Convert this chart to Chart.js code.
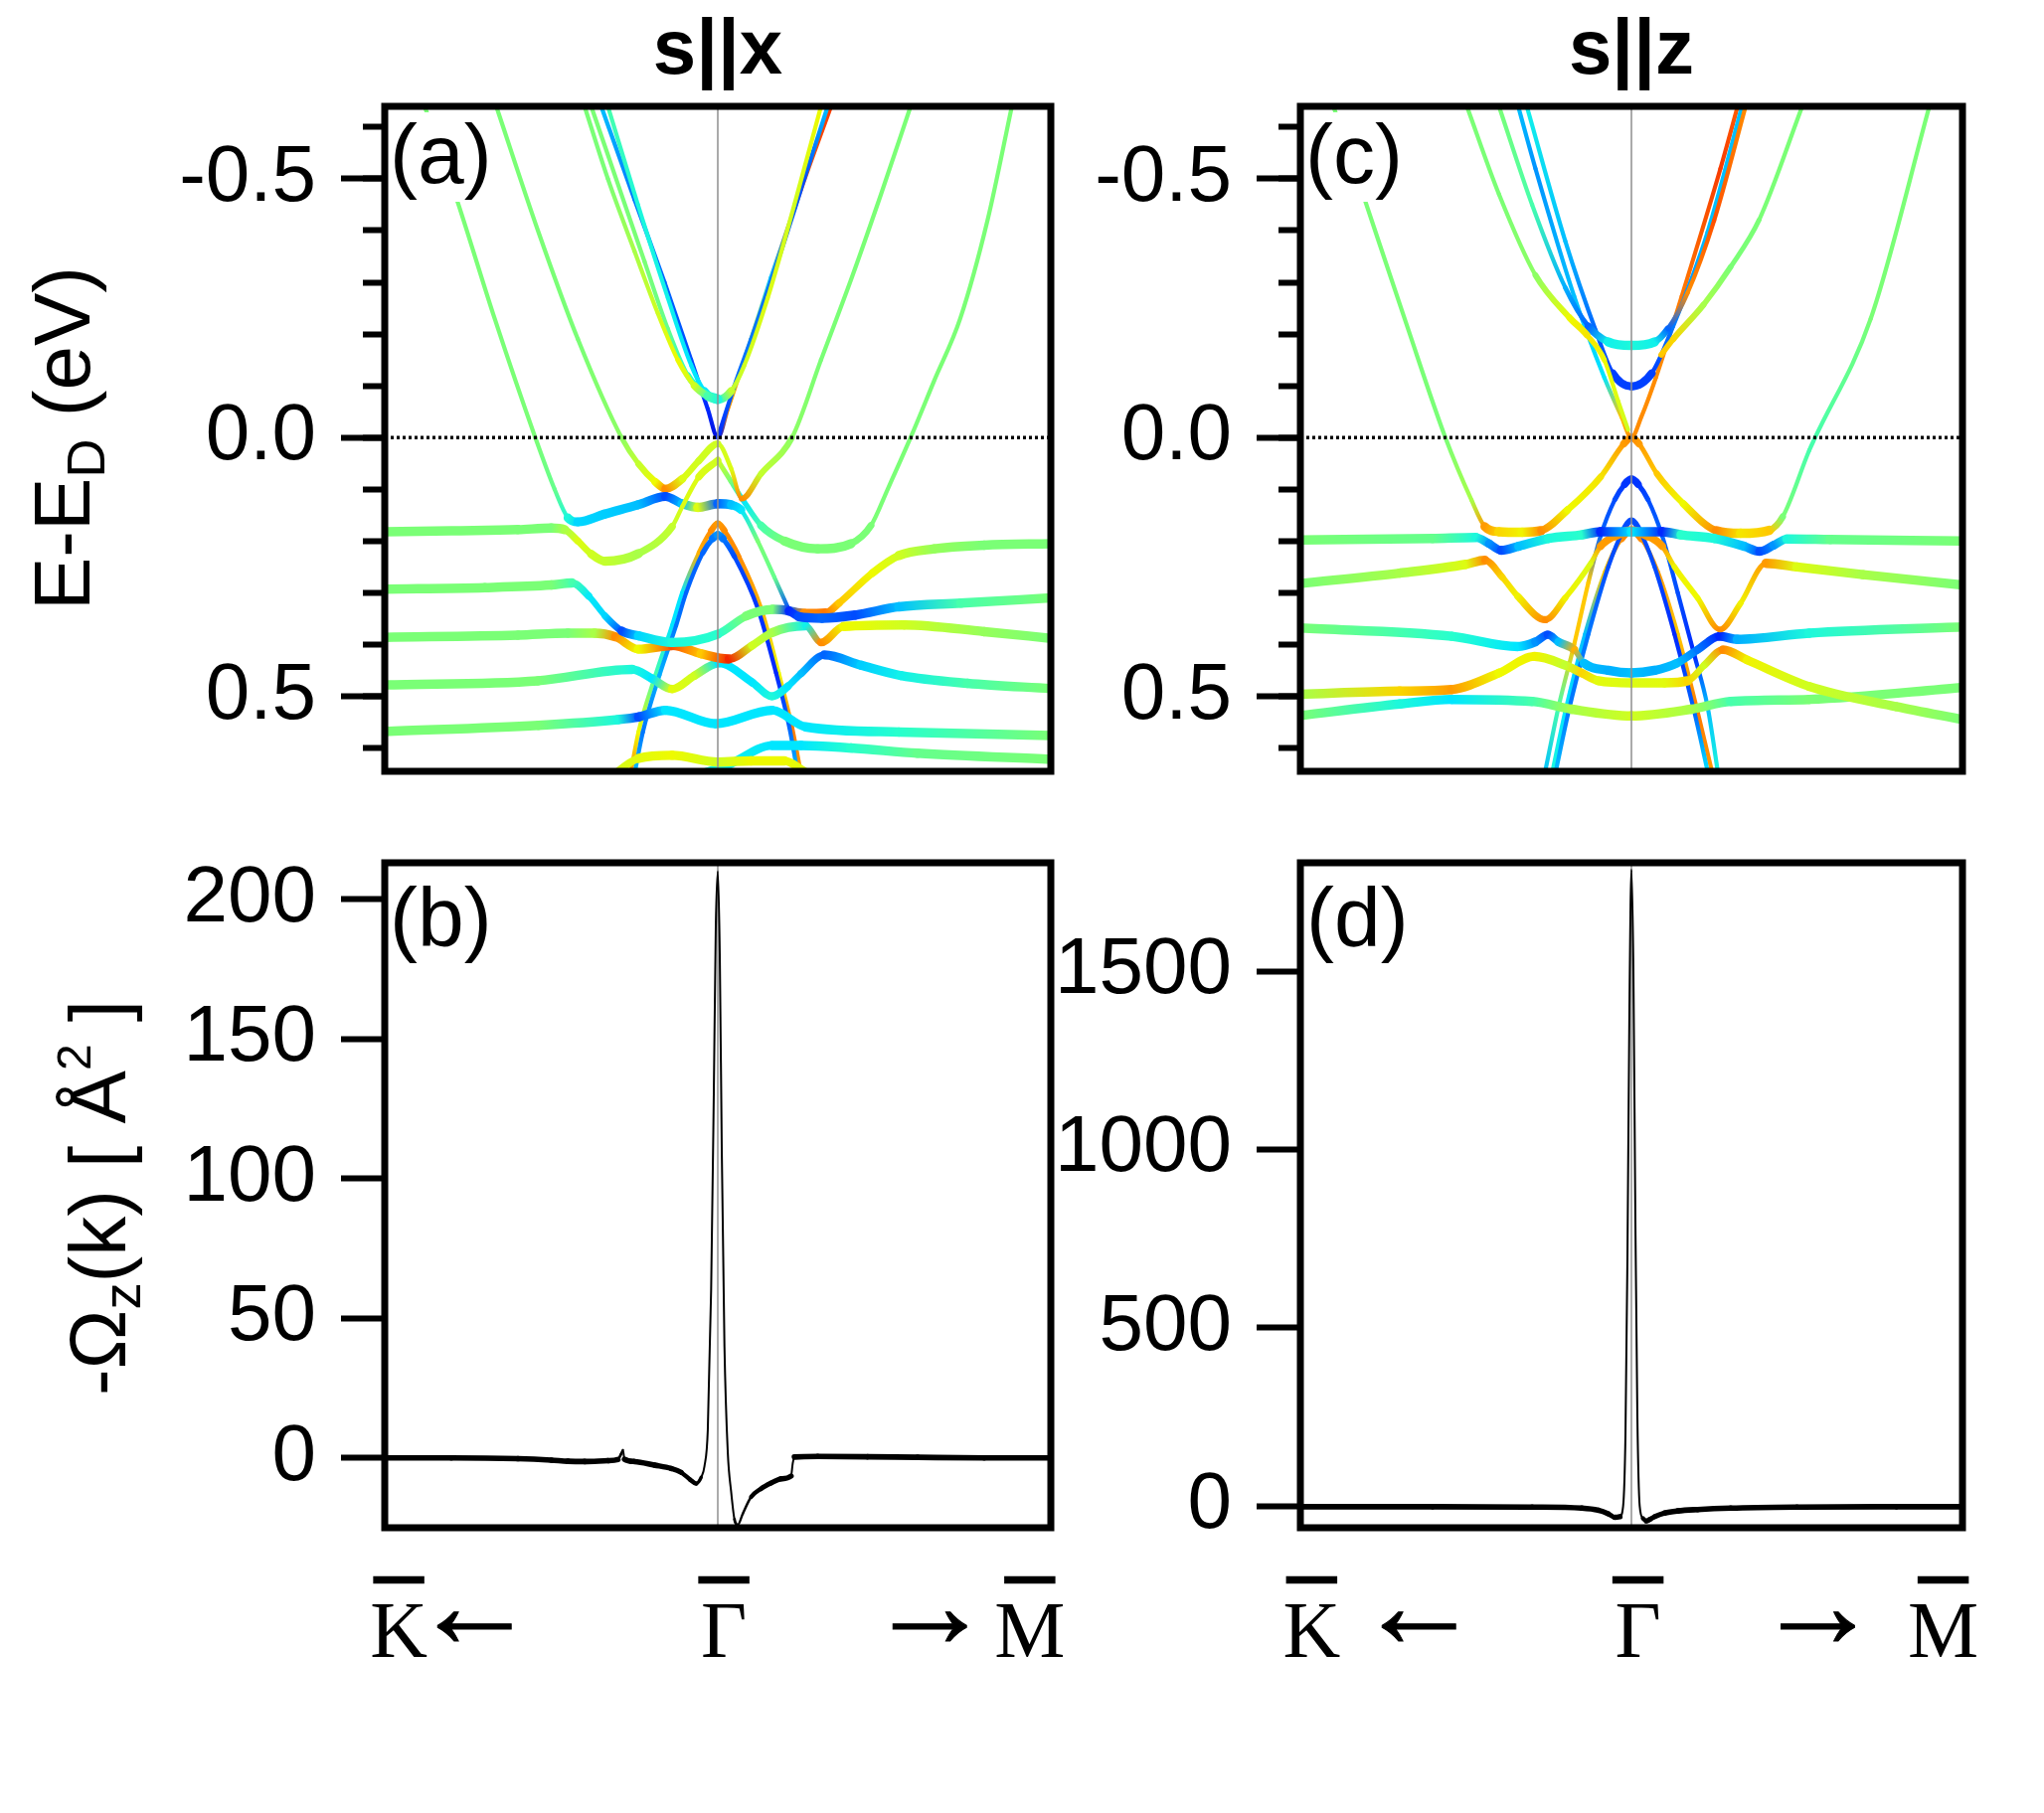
<!DOCTYPE html>
<html><head><meta charset="utf-8">
<script src="https://cdn.jsdelivr.net/npm/chart.js@4.4.1/dist/chart.umd.min.js"></script>
<style>
html,body{margin:0;padding:0;background:#fff;}
body{width:2056px;height:1824px;position:relative;overflow:hidden;}
canvas{position:absolute;}
.pl{position:absolute;font-family:"Liberation Sans",Arial,sans-serif;font-size:84px;line-height:1;background:#fff;padding:0 3px 6px 0;color:#000;z-index:5;}
.yt{position:absolute;font-family:"Liberation Sans",Arial,sans-serif;font-size:80px;line-height:100px;height:100px;width:700px;text-align:center;white-space:nowrap;transform:rotate(-90deg);color:#000;z-index:5;}
.yt sub{font-size:0.68em;vertical-align:-0.28em;line-height:0;}
.yt sup{font-size:0.6em;vertical-align:0.72em;line-height:0;}
</style></head><body>
<canvas id="ca" width="1100" height="790" style="left:0;top:0;width:1100px;height:790px"></canvas>
<canvas id="cc" width="996" height="790" style="left:1060px;top:0;width:996px;height:790px"></canvas>
<canvas id="cb" width="1100" height="1024" style="left:0;top:800px;width:1100px;height:1024px"></canvas>
<canvas id="cd" width="996" height="1024" style="left:1060px;top:800px;width:996px;height:1024px"></canvas>
<div class="yt" style="left:-287px;top:391px">E-E<sub>D</sub> (eV)</div>
<div class="yt" style="left:-251px;top:1155px">-Ω<sub>z</sub>(k) [ Å<sup>2</sup> ]</div>
<div class="pl" style="left:392px;top:113px">(a)</div>
<div class="pl" style="left:1313px;top:113px">(c)</div>
<div class="pl" style="left:392px;top:881px">(b)</div>
<div class="pl" style="left:1314px;top:881px">(d)</div>
<script>
// ---------------- DATA ----------------
// k runs from K (-1) through Gamma (0) to M (+1); E in eV relative to E_D; c = spin/weight value (0 blue .. 0.5 green .. 1 red)
const panelTitles = ["s||x", "s||z"];
const eTicksMajor = [-0.5, 0, 0.5];
const eTicksMinor = [-0.6,-0.5,-0.4,-0.3,-0.2,-0.1,0,0.1,0.2,0.3,0.4,0.5,0.6];
const berryTicksB = [0, 50, 100, 150, 200];
const berryTicksD = [0, 500, 1000, 1500];
const kPointLabels = ["K", "Γ", "M"];
const kBarLabels = ["‾", "‾", "‾"];
const kArrowLabels = ["←", "→"];
const kPointPosB = [-0.958, 0.018, 0.937];
const kArrowPosB = [-0.731, 0.636];
const kPointPosD = [-0.966, 0.02, 0.942];
const kArrowPosD = [-0.643, 0.562];

// ---- panel (a): s||x bands ----
const aK1=[-0.35,-0.25,-0.16,-0.08,-0.03,0,0.03,0.08,0.16,0.25,0.34];
const aE1=[-0.64,-0.46,-0.30,-0.15,-0.055,0,-0.055,-0.15,-0.31,-0.48,-0.64];
const aC1=[0.3,0.22,0.2,0.18,0.15,0.12,0.8,0.65,0.3,0.85,0.88];
const aK2=[0,0.05,0.1,0.18,0.26,0.33];
const aE2=[0.0,-0.1,-0.19,-0.34,-0.5,-0.64];
const aC2=[0.15,0.2,0.22,0.2,0.18,0.3];
const aK3=[-0.33,-0.24,-0.15,-0.08,-0.04,0,0.04,0.08,0.15,0.23,0.31];
const aE3=[-0.64,-0.45,-0.27,-0.14,-0.09,-0.073,-0.09,-0.14,-0.27,-0.45,-0.64];
const aC3=[0.45,0.4,0.38,0.35,0.35,0.4,0.58,0.6,0.62,0.6,0.65];
const aK4=[-0.40,-0.33,-0.25,-0.18,-0.12,-0.07,-0.03,0];
const aE4=[-0.64,-0.50,-0.36,-0.24,-0.15,-0.1,-0.08,-0.073];
const aC4=[0.5,0.5,0.55,0.6,0.65,0.6,0.45,0.4];
const aK5=[-0.38,-0.3,-0.22,-0.15,-0.09,-0.04,0];
const aE5=[-0.64,-0.49,-0.34,-0.21,-0.12,-0.085,-0.075];
const aC5=[0.5,0.5,0.5,0.48,0.42,0.4,0.4];
const aK6=[-0.88,-0.78,-0.67,-0.548,-0.49,-0.45,-0.42,-0.34,-0.24,-0.157,-0.107,-0.06,0,0.04,0.07,0.12,0.17,0.213];
const aE6=[-0.64,-0.453,-0.23,0,0.10,0.155,0.163,0.148,0.13,0.114,0.128,0.135,0.128,0.13,0.14,0.2,0.27,0.332];
const aC6=[0.5,0.5,0.5,0.5,0.48,0.4,0.33,0.32,0.3,0.18,0.3,0.62,0.2,0.3,0.35,0.5,0.48,0.18];
const aK7=[-0.665,-0.54,-0.42,-0.289,-0.238,-0.187,-0.157,-0.107,-0.057,0,0.04,0.072,0.13,0.223,0.31,0.404,0.49,0.579];
const aE7=[-0.64,-0.40,-0.19,0,0.051,0.086,0.099,0.08,0.045,0.012,0.06,0.118,0.07,0,-0.15,-0.312,-0.47,-0.64];
const aC7=[0.5,0.5,0.5,0.52,0.58,0.65,0.8,0.62,0.6,0.6,0.62,0.8,0.58,0.52,0.5,0.5,0.5,0.5];
const aK8=[0,0.04,0.075,0.13,0.2,0.3,0.4,0.46,0.51,0.579,0.65,0.728,0.81,0.883];
const aE8=[0.044,0.085,0.12,0.17,0.2,0.215,0.205,0.17,0.10,0,-0.11,-0.23,-0.42,-0.64];
const aC8=[0.6,0.5,0.35,0.45,0.5,0.5,0.5,0.5,0.5,0.5,0.5,0.5,0.5,0.5];
const aK9=[-1,-0.8,-0.6,-0.5,-0.46,-0.42,-0.38,-0.338,-0.238,-0.137,-0.107,-0.057,0];
const aE9=[0.182,0.18,0.178,0.175,0.178,0.20,0.225,0.239,0.224,0.172,0.134,0.076,0.044];
const aC9=[0.5,0.5,0.5,0.5,0.55,0.62,0.6,0.58,0.55,0.58,0.62,0.62,0.6];
const aK10=[-1,-0.7,-0.5,-0.438,-0.388,-0.338,-0.288,-0.238,-0.137,0,0.085,0.165,0.213,0.243,0.313,0.413,0.544,0.73,1];
const aE10=[0.293,0.29,0.285,0.281,0.306,0.345,0.374,0.383,0.396,0.38,0.345,0.332,0.335,0.346,0.349,0.343,0.327,0.32,0.31];
const aC10=[0.5,0.5,0.5,0.45,0.36,0.33,0.18,0.33,0.4,0.42,0.5,0.5,0.15,0.18,0.2,0.18,0.3,0.45,0.5];
const aK11=[0.213,0.26,0.324,0.364,0.464,0.544,0.65,0.8,1];
const aE11=[0.335,0.34,0.339,0.32,0.262,0.228,0.215,0.208,0.205];
const aC11=[0.2,0.8,0.82,0.72,0.65,0.6,0.53,0.5,0.5];
const aK12=[-1,-0.6,-0.45,-0.37,-0.308,-0.238,-0.137,-0.05,0.033,0.103,0.163,0.263,0.31,0.378,0.56,0.8,1];
const aE12=[0.386,0.382,0.378,0.378,0.385,0.409,0.402,0.418,0.428,0.402,0.377,0.364,0.396,0.365,0.362,0.375,0.388];
const aC12=[0.5,0.5,0.5,0.55,0.8,0.65,0.86,0.72,0.9,0.6,0.55,0.38,0.8,0.65,0.6,0.53,0.5];
const aK13=[-1,-0.54,-0.257,-0.197,-0.137,-0.07,0.003,0.103,0.163,0.21,0.25,0.32,0.43,0.55,0.75,1];
const aE13=[0.478,0.47,0.448,0.466,0.486,0.46,0.436,0.473,0.5,0.481,0.456,0.42,0.44,0.46,0.475,0.485];
const aC13=[0.5,0.5,0.4,0.35,0.63,0.6,0.35,0.35,0.4,0.35,0.3,0.2,0.32,0.38,0.45,0.5];
const aK14=[-1,-0.538,-0.3,-0.238,-0.157,-0.007,0.163,0.263,0.544,1];
const aE14=[0.568,0.556,0.545,0.54,0.527,0.553,0.527,0.559,0.569,0.576];
const aC14=[0.5,0.5,0.4,0.18,0.35,0.35,0.35,0.35,0.42,0.5];
const aK15=[-0.33,-0.238,-0.137,0,0.1,0.2,0.26];
const aE15=[0.66,0.62,0.614,0.627,0.625,0.625,0.645];
const aC15=[0.6,0.63,0.65,0.6,0.65,0.65,0.62];
const aK16=[-0.1,0.03,0.163,0.25,0.4,0.6,1];
const aE16=[0.66,0.633,0.595,0.595,0.6,0.61,0.622];
const aC16=[0.4,0.38,0.35,0.35,0.42,0.48,0.5];
const aK17=[-0.262,-0.238,-0.187,-0.137,-0.107,-0.057,-0.02,0,0.02,0.064,0.13,0.183,0.223,0.25];
const aE17=[0.65,0.569,0.459,0.363,0.30,0.223,0.18,0.166,0.18,0.23,0.33,0.455,0.56,0.65];
const aC17=[0.8,0.65,0.45,0.35,0.35,0.75,0.8,0.78,0.8,0.8,0.75,0.65,0.82,0.78];
const aK18=[-0.25,-0.225,-0.175,-0.125,-0.095,-0.045,-0.015,0,0.015,0.05,0.12,0.175,0.215,0.24];
const aE18=[0.65,0.569,0.459,0.363,0.30,0.223,0.195,0.188,0.195,0.23,0.33,0.455,0.56,0.65];
const aC18=[0.3,0.22,0.28,0.22,0.2,0.2,0.22,0.25,0.22,0.18,0.16,0.15,0.2,0.3];

// ---- panel (c): s||z bands ----
const cK1=[-0.9,-0.803,-0.68,-0.562,-0.483,-0.443,-0.40,-0.33,-0.273,-0.193,-0.093,-0.023,0,0.023,0.077,0.157,0.257,0.33,0.417,0.457,0.537,0.555,0.723,0.9];
const cE1=[-0.64,-0.455,-0.22,0,0.121,0.172,0.182,0.183,0.18,0.14,0.076,0.012,0,0.012,0.07,0.128,0.18,0.185,0.179,0.153,0.025,0,-0.23,-0.64];
const cC1=[0.5,0.5,0.5,0.5,0.55,0.78,0.7,0.66,0.8,0.65,0.68,0.78,0.8,0.78,0.72,0.65,0.8,0.68,0.72,0.5,0.45,0.45,0.5,0.5];
const cK2=[-0.342,-0.29,-0.173,-0.082,-0.03,0,0.03,0.074,0.152,0.269,0.321];
const cE2=[-0.64,-0.52,-0.273,-0.116,-0.04,0,-0.04,-0.116,-0.273,-0.52,-0.64];
const cC2=[0.3,0.25,0.3,0.35,0.72,0.8,0.8,0.8,0.82,0.88,0.85];
const cK3=[-0.316,-0.2,-0.108,-0.056,0,0.061,0.126,0.23,0.334];
const cE3=[-0.64,-0.38,-0.207,-0.124,-0.099,-0.124,-0.215,-0.397,-0.64];
const cC3=[0.38,0.3,0.2,0.17,0.17,0.17,0.22,0.3,0.3];
const cK4=[-0.40,-0.3,-0.2,-0.13,-0.07,0,0.07,0.11,0.17,0.25,0.345];
const cE4=[-0.64,-0.45,-0.29,-0.215,-0.185,-0.178,-0.185,-0.21,-0.28,-0.42,-0.64];
const cC4=[0.5,0.45,0.28,0.2,0.38,0.4,0.38,0.2,0.8,0.86,0.8];
const cK5=[-0.497,-0.4,-0.29,-0.186,-0.134,-0.082,-0.04,-0.01];
const cE5=[-0.64,-0.47,-0.314,-0.231,-0.198,-0.15,-0.07,-0.015];
const cC5=[0.5,0.5,0.52,0.65,0.68,0.65,0.62,0.6];
const cK6=[0.09,0.126,0.217,0.3,0.386,0.516];
const cE6=[-0.16,-0.19,-0.256,-0.33,-0.421,-0.64];
const cC6=[0.72,0.7,0.55,0.5,0.5,0.5];
const cK7=[-1,-0.6,-0.47,-0.43,-0.393,-0.34,-0.25,-0.15,-0.093,0,0.093,0.15,0.25,0.34,0.387,0.43,0.47,0.6,1];
const cE7=[0.198,0.195,0.193,0.205,0.218,0.21,0.195,0.188,0.182,0.182,0.182,0.188,0.195,0.21,0.22,0.208,0.196,0.197,0.2];
const cC7=[0.5,0.48,0.4,0.25,0.18,0.3,0.4,0.42,0.15,0.35,0.15,0.42,0.4,0.3,0.18,0.25,0.4,0.48,0.5];
const cK8=[-0.262,-0.22,-0.173,-0.13,-0.093,-0.05,-0.02,0,0.02,0.05,0.093,0.14,0.19,0.23,0.262];
const cE8=[0.65,0.52,0.40,0.28,0.19,0.12,0.09,0.08,0.09,0.12,0.19,0.3,0.42,0.52,0.65];
const cC8=[0.3,0.45,0.72,0.72,0.2,0.18,0.16,0.16,0.16,0.18,0.2,0.18,0.15,0.3,0.4];
const cK9=[-0.24,-0.2,-0.14,-0.08,-0.03,0,0.03,0.08,0.14,0.2,0.245];
const cE9=[0.65,0.53,0.38,0.26,0.195,0.18,0.195,0.26,0.38,0.53,0.65];
const cC9=[0.4,0.35,0.3,0.72,0.8,0.82,0.8,0.78,0.72,0.82,0.78];
const cK10=[-0.23,-0.19,-0.13,-0.07,-0.025,0,0.025,0.07,0.13,0.19,0.232];
const cE10=[0.65,0.53,0.38,0.25,0.18,0.16,0.18,0.25,0.38,0.53,0.65];
const cC10=[0.3,0.22,0.22,0.18,0.18,0.18,0.18,0.18,0.15,0.2,0.35];
const cK11=[-1,-0.7,-0.5,-0.443,-0.39,-0.343,-0.26,-0.2,-0.123,-0.093,-0.05,0,0.05,0.093,0.13,0.2,0.267,0.33,0.407,0.5,0.7,1];
const cE11=[0.282,0.262,0.245,0.237,0.27,0.307,0.352,0.31,0.243,0.21,0.19,0.18,0.19,0.21,0.25,0.31,0.371,0.32,0.243,0.25,0.265,0.285];
const cC11=[0.5,0.55,0.62,0.8,0.7,0.66,0.8,0.66,0.62,0.78,0.78,0.8,0.78,0.78,0.66,0.65,0.8,0.66,0.78,0.62,0.55,0.5];
const cK12=[-1,-0.543,-0.343,-0.29,-0.253,-0.22,-0.173,-0.143,-0.07,0,0.07,0.137,0.2,0.267,0.32,0.537,1];
const cE12=[0.368,0.384,0.404,0.395,0.381,0.395,0.41,0.436,0.45,0.455,0.45,0.436,0.41,0.384,0.39,0.378,0.366];
const cC12=[0.5,0.42,0.35,0.25,0.18,0.3,0.75,0.3,0.28,0.3,0.28,0.3,0.22,0.15,0.28,0.4,0.5];
const cK13=[-1,-0.7,-0.543,-0.4,-0.293,-0.2,-0.15,-0.1,0,0.1,0.17,0.22,0.277,0.35,0.537,0.8,1];
const cE13=[0.496,0.49,0.487,0.455,0.423,0.44,0.455,0.47,0.474,0.474,0.47,0.44,0.41,0.43,0.481,0.52,0.545];
const cC13=[0.55,0.7,0.78,0.65,0.66,0.58,0.7,0.63,0.62,0.63,0.7,0.6,0.8,0.66,0.6,0.55,0.5];
const cK14=[-1,-0.7,-0.543,-0.3,-0.18,0,0.18,0.3,0.537,1];
const cE14=[0.537,0.515,0.506,0.51,0.525,0.538,0.525,0.51,0.506,0.483];
const cC14=[0.5,0.4,0.35,0.45,0.55,0.6,0.55,0.45,0.5,0.5];

// ---- Berry curvature -Omega_z(k) ----
const bK=[-1,-0.8,-0.6,-0.5,-0.45,-0.4,-0.33,-0.3,-0.29,-0.285,-0.28,-0.25,-0.19,-0.14,-0.11,-0.083,-0.065,-0.05,-0.04,-0.03,-0.02,-0.012,-0.006,0,0.006,0.012,0.02,0.03,0.04,0.05,0.06,0.075,0.1,0.13,0.16,0.19,0.22,0.225,0.23,0.3,0.45,0.6,0.8,1];
const bV=[0,0,-0.3,-0.8,-1.2,-1.3,-1,-0.6,1.5,2.8,-0.5,-1.3,-2.6,-3.8,-5.2,-7.8,-9.2,-7,-3,10,60,130,190,210,180,110,40,2,-12,-22,-24,-20,-14,-11,-9,-7.5,-6.5,-2,0.3,0.5,0.4,0.2,0,0];
const dK=[-1,-0.6,-0.3,-0.15,-0.1,-0.07,-0.05,-0.035,-0.025,-0.018,-0.012,-0.006,0,0.006,0.012,0.018,0.025,0.035,0.045,0.055,0.07,0.1,0.14,0.2,0.3,0.5,0.8,1];
const dV=[-2,-2,-3,-6,-12,-22,-32,-30,0,200,700,1400,1785,1500,800,250,0,-35,-42,-38,-30,-20,-14,-10,-6,-3,-2,-2];

// ---------------- STYLE / BUILD ----------------
Chart.defaults.font.family = '"Liberation Sans", Arial, sans-serif';
Chart.defaults.color = '#000';
const serif = '"Liberation Serif","Times New Roman",serif';
const cmapStops=[[0.10,[0,0,200]],[0.15,[0,40,255]],[0.20,[0,100,255]],[0.28,[0,175,255]],[0.35,[0,230,255]],[0.42,[40,255,205]],[0.50,[122,255,118]],[0.58,[195,255,45]],[0.65,[238,250,0]],[0.72,[255,200,0]],[0.80,[255,140,0]],[0.86,[255,80,0]],[0.92,[235,20,0]]];
function cmap(v){
  if (v<=cmapStops[0][0]) return 'rgb('+cmapStops[0][1].join(',')+')';
  for (let i=1;i<cmapStops.length;i++){
    if (v<=cmapStops[i][0]){
      const [v0,c0]=cmapStops[i-1],[v1,c1]=cmapStops[i]; const t=(v-v0)/(v1-v0);
      return 'rgb('+c0.map((q,j)=>Math.round(q+(c1[j]-q)*t)).join(',')+')';
    }
  }
  return 'rgb('+cmapStops[cmapStops.length-1][1].join(',')+')';
}
function segColor(ctx, cs){
  const c0=cs[ctx.p0DataIndex], c1=cs[ctx.p1DataIndex];
  if (Math.abs(c0-c1)<1e-6) return cmap(c0);
  const g=ctx.chart.ctx.createLinearGradient(ctx.p0.x,ctx.p0.y,ctx.p1.x,ctx.p1.y);
  g.addColorStop(0,cmap(c0)); g.addColorStop(1,cmap(c1)); return g;
}
function segWidth(ctx, base, min){
  const dx=ctx.p1.x-ctx.p0.x, dy=ctx.p1.y-ctx.p0.y, L=Math.hypot(dx,dy);
  if (!L) return base; return Math.max(min, base*Math.abs(dx)/L);
}
function bandDS(k,e,c){
  return {data:k.map((x,i)=>({x:x,y:e[i]})), borderColor:cmap(0.5), borderWidth:8, pointRadius:0,
    cubicInterpolationMode:'monotone', borderCapStyle:'round', borderJoinStyle:'round', order:1,
    segment:{borderColor:ctx=>segColor(ctx,c), borderWidth:ctx=>segWidth(ctx,9.5,4.2)}};
}
function curveDS(k,v){
  return {data:k.map((x,i)=>({x:x,y:v[i]})), borderColor:'#000', borderWidth:5, pointRadius:0,
    cubicInterpolationMode:'monotone', borderCapStyle:'round', borderJoinStyle:'round', order:1,
    segment:{borderWidth:ctx=>segWidth(ctx,5.6,2)}};
}
function gammaDS(lo,hi,ord){ return {data:[{x:0,y:lo},{x:0,y:hi}], borderColor:'#8f8f8f', borderWidth:1.5, pointRadius:0, tension:0, order:ord}; }
function zeroDS(){ return {data:[{x:-1,y:0},{x:1,y:0}], borderColor:'#000', borderWidth:3.5, borderDash:[3,3], pointRadius:0, tension:0, order:0}; }

const framePlugin={id:'frame', afterDatasetsDraw(chart){
  const {ctx, chartArea:a}=chart; ctx.save(); ctx.lineWidth=7; ctx.strokeStyle='#000';
  ctx.strokeRect(a.left,a.top,a.right-a.left,a.bottom-a.top); ctx.restore(); }};

const noPad = s => { s.paddingLeft=0; s.paddingRight=0; s.paddingTop=0; s.paddingBottom=0; };
function kAxis(yMin, pos, labels, size, pad, stroke){
  return {type:'linear', axis:'x', min:-1, max:1, position:{y:yMin},
    afterBuildTicks:s=>{s.ticks=pos.map(v=>({value:v}));}, afterFit:noPad,
    ticks:{autoSkip:false, maxRotation:0, minRotation:0, padding:pad, color:'#000',
      textStrokeColor:'#000', textStrokeWidth:stroke,
      font:{family:serif, size:size, lineHeight:1}, callback:(v,i)=>labels[i]},
    grid:{drawOnChartArea:false, drawTicks:false}, border:{display:false}};
}
function makeChart(id, datasets, o){
  const scales={};
  if (o.xPoints){
    scales.x=kAxis(o.yMin, o.xPoints, kPointLabels, 80, 69, 0);
    scales.xbar=kAxis(o.yMin, o.xPoints, kBarLabels, 125, 54, 2.5);
    scales.xarr=kAxis(o.yMin, o.xArrows, kArrowLabels, 125, 25, 1);
  } else {
    scales.x={type:'linear', min:-1, max:1, display:false};
  }
  scales.y={type:'linear', position:'left', weight:1, min:o.yMin, max:o.yMax, reverse:!!o.reverse,
    afterBuildTicks:s=>{s.ticks=o.yTicks.map(v=>({value:v}));},
    afterFit:s=>{s.width=o.yWidth; s.paddingTop=0; s.paddingBottom=0;},
    ticks:{autoSkip:false, padding:25, color:'#000', font:{size:80}, callback:o.yFmt},
    grid:{drawOnChartArea:false, drawTicks:true, tickLength:44, tickWidth:6, tickColor:'#000'},
    border:{display:false}};
  if (o.yMinor){
    scales.y2={type:'linear', position:'left', weight:0, min:o.yMin, max:o.yMax, reverse:!!o.reverse,
      afterBuildTicks:s=>{s.ticks=o.yMinor.map(v=>({value:v}));},
      afterFit:s=>{s.width=0; s.paddingTop=0; s.paddingBottom=0;},
      ticks:{display:false},
      grid:{drawOnChartArea:false, drawTicks:true, tickLength:22, tickWidth:6, tickColor:'#000'},
      border:{display:false}};
  }
  return new Chart(document.getElementById(id), {type:'line', data:{datasets:datasets},
    options:{responsive:false, animation:false, devicePixelRatio:1, events:[],
      layout:{padding:{top:o.padTop, right:o.padRight, bottom:o.padBottom, left:0}},
      plugins:{legend:{display:false}, tooltip:{enabled:false},
        title: o.title ? {display:true, text:o.title, fullSize:false, color:'#000',
          font:{size:78, weight:'bold', lineHeight:1.2}, padding:{top:6, bottom:7.4}} : {display:false}},
      scales:scales},
    plugins:[framePlugin]});
}

const E_MIN=-0.64, E_MAX=0.645;
const bandsA=[[aK9,aE9,aC9],[aK10,aE10,aC10],[aK11,aE11,aC11],[aK12,aE12,aC12],[aK13,aE13,aC13],[aK14,aE14,aC14],[aK15,aE15,aC15],[aK16,aE16,aC16],
  [aK6,aE6,aC6],[aK7,aE7,aC7],[aK8,aE8,aC8],[aK4,aE4,aC4],[aK5,aE5,aC5],[aK3,aE3,aC3],[aK2,aE2,aC2],[aK1,aE1,aC1],[aK18,aE18,aC18],[aK17,aE17,aC17]];
const bandsC=[[cK7,cE7,cC7],[cK11,cE11,cC11],[cK12,cE12,cC12],[cK13,cE13,cC13],[cK14,cE14,cC14],
  [cK1,cE1,cC1],[cK5,cE5,cC5],[cK6,cE6,cC6],[cK4,cE4,cC4],[cK3,cE3,cC3],[cK2,cE2,cC2],[cK10,cE10,cC10],[cK9,cE9,cC9],[cK8,cE8,cC8]];
const fmtE=v=>v.toFixed(1);
const fmtB=v=>String(v);

makeChart('ca', bandsA.map(b=>bandDS(b[0],b[1],b[2])).concat([gammaDS(E_MIN,E_MAX,0), zeroDS()]),
  {title:panelTitles[0], yMin:E_MIN, yMax:E_MAX, reverse:true, yTicks:eTicksMajor, yMinor:eTicksMinor, yFmt:fmtE, yWidth:387, padTop:0, padRight:43, padBottom:14});
makeChart('cc', bandsC.map(b=>bandDS(b[0],b[1],b[2])).concat([gammaDS(E_MIN,E_MAX,0), zeroDS()]),
  {title:panelTitles[1], yMin:E_MIN, yMax:E_MAX, reverse:true, yTicks:eTicksMajor, yMinor:eTicksMinor, yFmt:fmtE, yWidth:248, padTop:0, padRight:82, padBottom:14});
makeChart('cb', [curveDS(bK,bV), gammaDS(-25,213,2)],
  {yMin:-25, yMax:213, yTicks:berryTicksB, yFmt:fmtB, yWidth:387, padTop:68, padRight:43, padBottom:287, xPoints:kPointPosB, xArrows:kArrowPosB});
makeChart('cd', [curveDS(dK,dV), gammaDS(-61,1804,2)],
  {yMin:-61, yMax:1804, yTicks:berryTicksD, yFmt:fmtB, yWidth:248, padTop:68, padRight:82, padBottom:287, xPoints:kPointPosD, xArrows:kArrowPosD});
</script>
</body></html>
